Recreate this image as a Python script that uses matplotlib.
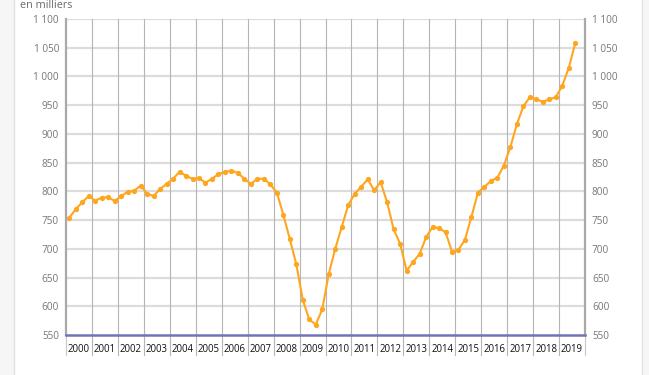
import matplotlib
matplotlib.use("Agg")
import matplotlib.pyplot as plt
from matplotlib.patches import Rectangle
from matplotlib.lines import Line2D
import matplotlib.transforms as mtransforms

plt.rcParams['font.family'] = ['Open Sans', 'DejaVu Sans']

# Quarterly values, 2000 Q1 .. 2019 Q3 (en milliers)
values = [754, 769, 781, 792,
          784, 789, 790, 783,
          792, 799, 801, 810,
          796, 792, 804, 813,
          822, 834, 827, 822,
          823, 815, 822, 830,
          834, 836, 832, 822,
          813, 822, 822, 812,
          798, 759, 717, 673,
          611, 577, 568, 595,
          656, 700, 738, 776,
          796, 808, 821, 802,
          816, 781, 734, 709,
          662, 677, 691, 720,
          738, 736, 729, 695,
          698, 716, 756, 798,
          808, 818, 824, 845,
          877, 917, 948, 964,
          960, 956, 960, 964,
          984, 1015, 1058]
first_year = 2000
years = list(range(2000, 2020))
yticks = [550, 600, 650, 700, 750, 800, 850, 900, 950, 1000, 1050, 1100]
ytick_labels = ["550", "600", "650", "700", "750", "800", "850", "900", "950",
                "1 000", "1 050", "1 100"]
unit_label = "en milliers"

W, H = 649, 375
fig = plt.figure(figsize=(W / 100, H / 100), dpi=100)
fig.patch.set_facecolor('white')

# side strips
fig.patches.append(Rectangle((0, 0), 14.5 / W, 1, transform=fig.transFigure,
                             facecolor='#f6f6f6', edgecolor='none', zorder=0))
fig.lines.append(Line2D([14.5 / W, 14.5 / W], [0, 1], transform=fig.transFigure,
                        color='#e2e2e2', lw=1))
fig.patches.append(Rectangle((641.5 / W, 0), 1, 1, transform=fig.transFigure,
                             facecolor='#f6f6f6', edgecolor='none', zorder=0))
fig.lines.append(Line2D([641.5 / W, 641.5 / W], [0, 1], transform=fig.transFigure,
                        color='#e2e2e2', lw=1))

left, right, top, bottom = 66, 585, 19, 335
ax = fig.add_axes([left / W, (H - bottom) / H, (right - left) / W, (bottom - top) / H])
ax.set_facecolor('white')

xs = [first_year + (i + 0.5) / 4 for i in range(len(values))]
ax.set_xlim(years[0], years[-1] + 1)
ax.set_ylim(yticks[0], yticks[-1])

# horizontal grid
for yv in yticks[1:]:
    ax.axhline(yv, color='#dcdcdc', lw=1.6, zorder=1)

# vertical year lines, extending below the axis
trans = mtransforms.blended_transform_factory(ax.transData, ax.transAxes)
ext = (355 - bottom) / (bottom - top)
for yr in years[1:]:
    ax.plot([yr, yr], [-ext, 1], transform=trans, color='#b5b5b5', lw=0.8,
            clip_on=False, zorder=1)
for yr in (years[0], years[-1] + 1):
    ax.plot([yr, yr], [-ext, 0], transform=trans, color='#c8c8c8', lw=0.8,
            clip_on=False, zorder=1)

# year labels
for yr in years:
    ax.text(yr + 0.5, -(349.8 - bottom) / (bottom - top), str(yr), transform=trans,
            ha='center', va='center', fontsize=6.9, color='#111111')

# series
ax.plot(xs, values, color='#ffa61f', lw=1.5, marker='o', markersize=3.8,
        markeredgewidth=0, zorder=3, clip_on=False)

# spines
ax.spines['top'].set_visible(False)
ax.spines['left'].set_color('#a9a9a9')
ax.spines['left'].set_linewidth(1.6)
ax.spines['right'].set_color('#a9a9a9')
ax.spines['right'].set_linewidth(1.6)
ax.spines['bottom'].set_color('#7272b6')
ax.spines['bottom'].set_linewidth(1.8)
ax.spines['bottom'].set_zorder(4)

ax.set_xticks([])
ax.set_yticks(yticks)
ax.set_yticklabels(ytick_labels)
ax.tick_params(axis='y', length=0, pad=5, labelsize=7.2, labelcolor='#777777',
               left=True, right=True, labelleft=True, labelright=True)

fig.text(20.5 / W, (H - 8) / H, unit_label, ha='left', va='baseline',
         fontsize=7.8, color='#6a6a6a')

fig.savefig('out.png', dpi=100, facecolor=fig.get_facecolor())
